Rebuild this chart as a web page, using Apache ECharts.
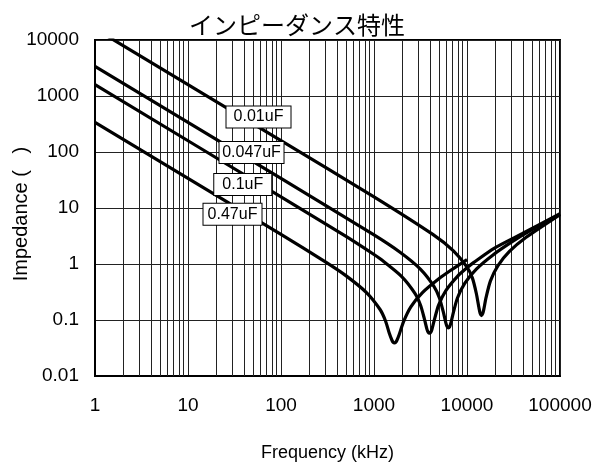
<!DOCTYPE html>
<html><head><meta charset="utf-8">
<script src="https://cdn.jsdelivr.net/npm/echarts@6/dist/echarts.min.js"></script>
<style>html,body{margin:0;padding:0;background:#fff}#c{width:602px;height:471px}</style>
</head><body><div id="c"></div>
<script>
// ---- data ----
const titleText = 'インピーダンス特性';
const xAxisName = 'Frequency (kHz)';
const yAxisName = 'Impedance (   )';
const xTickLabels = ['1', '10', '100', '1000', '10000', '100000'];
const yTickLabels = ['0.01', '0.1', '1', '10', '100', '1000', '10000'];
const seriesNames = ['0.01uF', '0.047uF', '0.1uF', '0.47uF'];

// 0.01uF
const freq_001 = [1, 100, 1000, 4290, 7150, 10010, 11440, 12584, 13442, 13871, 14300, 14729, 15158, 16016, 17875, 21450, 28600, 42900, 100000];
const imp_001  = [15915, 159, 15.85, 3.38, 1.72, 0.88, 0.56, 0.30, 0.165, 0.13, 0.12, 0.129, 0.155, 0.25, 0.5, 0.93, 1.675, 2.97, 7.63];
// 0.047uF
const freq_0047 = [1, 100, 1000, 1890, 3150, 4410, 5040, 5544, 5922, 6111, 6300, 6489, 6678, 7056, 7875, 9450, 12600, 18900, 31500, 50000, 100000];
const imp_0047  = [3386, 33.8, 3.30, 1.633, 0.81, 0.399, 0.25, 0.142, 0.089, 0.076, 0.072, 0.075, 0.086, 0.126, 0.245, 0.45, 0.81, 1.437, 2.58, 4.1, 7.7];
// 0.1uF
const freq_01 = [1, 100, 500, 1000, 1185, 1975, 2765, 3160, 3476, 3713, 3832, 3950, 4069, 4187, 4424, 4938, 5925, 7900, 10000, 11850, 19750, 39500, 100000];
const imp_01  = [1592, 15.8, 3.11, 1.48, 1.214, 0.603, 0.297, 0.185, 0.106, 0.068, 0.06, 0.058, 0.06, 0.067, 0.096, 0.183, 0.335, 0.603, 0.854, 1.068, 1.92, 3.5, 7.9];
// 0.47uF
const freq_047 = [1, 100, 300, 498, 830, 1162, 1328, 1461, 1560, 1610, 1660, 1710, 1760, 1859, 2075, 2490, 3320, 4980, 6640, 10000];
const imp_047  = [339, 3.38, 1.09, 0.62, 0.309, 0.154, 0.097, 0.058, 0.0435, 0.040, 0.039, 0.040, 0.043, 0.054, 0.093, 0.172, 0.309, 0.545, 0.765, 1.2];

// label anchors (data space: frequency, impedance)
const labelFreq = [57.3, 48.2, 38.8, 30.1];
const labelImp  = [423, 98.4, 26.4, 7.72];

const xMin = 1, xMax = 100000, yMin = 0.01, yMax = 10000;

// ---- build ----
const freqs = [freq_001, freq_0047, freq_01, freq_047];
const imps  = [imp_001, imp_0047, imp_01, imp_047];
const labelBoxWidth = [56, 56, 49, 50];

const minorX = [];
for (let e = 0; e < 5; e++) for (let m = 2; m <= 9; m++) minorX.push(m * Math.pow(10, e));

const font = '"Liberation Sans", Arial, sans-serif';
const series = seriesNames.map((name, i) => ({
  name: name,
  type: 'line',
  data: freqs[i].map((f, k) => [f, imps[i][k]]),
  showSymbol: false,
  symbol: 'none',
  clip: true,
  smooth: 0.25,
  z: 3,
  lineStyle: { color: '#000', width: 3.2 },
  emphasis: { disabled: true },
  markPoint: {
    silent: true,
    symbol: 'rect',
    symbolSize: 0,
    z: 10,
    animation: false,
    data: [{ coord: [labelFreq[i], labelImp[i]], value: name }],
    label: {
      show: true, position: 'inside', formatter: name,
      color: '#000', fontSize: 16, fontFamily: font,
      width: labelBoxWidth[i], align: 'center', verticalAlign: 'middle',
      backgroundColor: '#fff', borderColor: '#000', borderWidth: 1,
      padding: [3, 4, 2, 4]
    }
  }
}));
series.unshift({
  type: 'line', data: [], z: 1, silent: true,
  markLine: {
    silent: true, symbol: 'none', z: 1, animation: false,
    label: { show: false },
    lineStyle: { color: '#222', width: 1, type: 'solid' },
    emphasis: { disabled: true },
    data: minorX.map(v => [{ coord: [v, yMin] }, { coord: [v, yMax] }])
  }
});

const chart = echarts.init(document.getElementById('c'), null, { renderer: 'canvas' });
chart.setOption({
  animation: false,
  backgroundColor: '#fff',
  title: {
    text: titleText, left: 184, top: 8,
    textStyle: { fontFamily: '"Noto Sans CJK JP", sans-serif', fontSize: 24, fontWeight: 'normal', color: '#000' }
  },
  grid: { left: 95, right: 42, top: 40, bottom: 95, show: true, borderColor: '#000', borderWidth: 2, backgroundColor: 'transparent', outerBoundsMode: 'none', containLabel: false },
  xAxis: {
    type: 'log', logBase: 10, min: xMin, max: xMax, splitNumber: 5,
    name: xAxisName, nameLocation: 'middle', nameGap: 68, nameMoveOverlap: false,
    nameTextStyle: { fontFamily: font, fontSize: 18, color: '#000' },
    axisLine: { show: true, lineStyle: { color: '#000', width: 2 } },
    axisTick: { show: false },
    axisLabel: {
      margin: 20, fontSize: 19, fontFamily: font, color: '#000',
      formatter: v => xTickLabels[Math.round(Math.log10(v))]
    },
    splitLine: { show: true, lineStyle: { color: '#222', width: 1 } }
  },
  yAxis: {
    type: 'log', logBase: 10, min: yMin, max: yMax, splitNumber: 6,
    name: yAxisName, nameLocation: 'middle', nameGap: 64, nameMoveOverlap: false,
    nameTextStyle: { fontFamily: font, fontSize: 20, color: '#000', padding: [0, 12, 0, 0] },
    axisLine: { show: true, lineStyle: { color: '#000', width: 2 } },
    axisTick: { show: false },
    axisLabel: {
      margin: 16, fontSize: 19, fontFamily: font, color: '#000',
      formatter: v => yTickLabels[Math.round(Math.log10(v)) + 2]
    },
    splitLine: { show: true, lineStyle: { color: '#222', width: 1 } }
  },
  series: series
});
</script>
</body></html>
